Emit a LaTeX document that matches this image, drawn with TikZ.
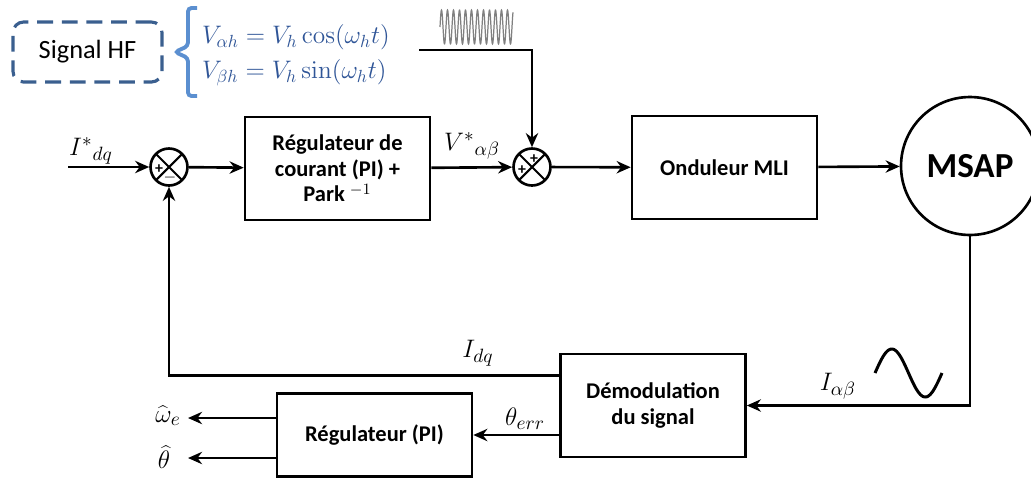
\documentclass[tikz,border=0pt]{standalone}
\usepackage[no-math]{fontspec}
\setmainfont{Carlito}
\usetikzlibrary{arrows.meta, calc, positioning}
\definecolor{hfblue}{HTML}{3A5F8F}
\definecolor{eqblue}{HTML}{2F5597}
\definecolor{braceblue}{HTML}{5B8FD0}

\begin{document}
\begin{tikzpicture}[x=0.02cm, y=-0.02cm, line width=1.5pt,
        bloc/.style={draw, minimum width=3.7cm, minimum height=2.06cm, inner sep=0pt, align=center, font=\fontsize{12.8}{14.5}\selectfont\bfseries},
        somme/.style={draw, circle, minimum size=0.74cm, inner sep=0pt, path picture={
            \draw[line width=1.2pt] (path picture bounding box.north west) -- (path picture bounding box.south east)
                (path picture bounding box.north east) -- (path picture bounding box.south west);}},
        signe/.style={font=\fontsize{9}{9}\selectfont\bfseries, inner sep=0pt},
        label/.style={font=\fontsize{15.5}{17}\selectfont, inner sep=1pt},
        fl/.style={-{Stealth[length=8pt,width=7pt]}}]
        \useasboundingbox (0,0) rectangle (1031,481);

        % signal HF
        \node[draw=hfblue, line width=1.8pt, dash pattern=on 9pt off 5pt, rounded corners=6pt, minimum width=2.98cm, minimum height=1.2cm, font=\fontsize{15}{17}\selectfont] (hf) at (87.5,52) {Signal HF};
        \draw[braceblue, line width=2.2pt, rounded corners=2pt] (197,8) -- (188,8) -- (188,46) -- (175,52) -- (188,58) -- (188,96) -- (197,96);
        \node[font=\fontsize{14.5}{16}\selectfont, text=eqblue, anchor=west] (eqa) at (195,37) {$V_{\alpha h} = V_h\cos(\omega_h t)$};
        \node[font=\fontsize{14.5}{16}\selectfont, text=eqblue, anchor=west] (eqb) at (195,73) {$V_{\beta h} = V_h\sin(\omega_h t)$};
        \draw[gray, line width=0.7pt, domain=440:513, samples=400] plot (\x, {27-17*sin(60*(\x-440))});

        % chaine directe
        \node[somme] (s1) at (169,167) {};
        \node[somme] (s2) at (532,167) {};
        \node[bloc] (reg) at (337.5,168.5) {Régulateur de\\courant (PI) +\\Park $^{-1}$};
        \node[bloc] (ond) at (724.5,167.5) {Onduleur MLI};
        \node[draw, circle, minimum size=2.76cm, inner sep=0pt, font=\fontsize{20}{22}\selectfont\bfseries] (msap) at (970,166) {MSAP};
        \node[bloc] (demod) at (653,405.5) {Démodulation\\du signal};
        \node[bloc, minimum width=3.9cm, minimum height=1.66cm] (regpi) at (374.5,435) {Régulateur (PI)};

        \node[signe] at ($(s1)+(-10,2)$) {+};
        \node[signe] at ($(s1)+(1,11)$) {$-$};
        \node[signe] at ($(s2)+(2,-8)$) {+};
        \node[signe] at ($(s2)+(-10,3)$) {+};

        \coordinate (entree) at (68,167);
        \coordinate (hfa) at (419,50);
        \coordinate (wout) at (188,418);
        \coordinate (thout) at (188,458);

        \draw[fl] (entree) -- (s1);
        \draw[fl] (s1) -- (reg);
        \draw[fl] (reg) -- (s2);
        \draw[fl] (hfa) -| (s2);
        \draw[fl] (s2) -- (ond);
        \draw[fl] (ond) -- (msap);
        \draw[fl] (msap) |- (demod);
        \draw[fl] ($(demod.west)+(0,-30)$) -| (s1);
        \draw[fl] (demod.west |- regpi.east) -- (regpi);
        \draw[fl] (regpi.west |- wout) -- (wout);
        \draw[fl] (regpi.west |- thout) -- (thout);

        % courant mesure
        \draw[line width=1.7pt, domain=875:942, samples=100] plot (\x, {373-24*sin(5.373*(\x-875))});

        \node[label] at (91,151) {$I^{*}{}_{dq}$};
        \node[label] at (472,146) {$V^{*}{}_{\alpha\beta}$};
        \node[label] at (838,386) {$I_{\alpha\beta}$};
        \node[label] at (478,353) {$I_{dq}$};
        \node[label] at (525,419) {$\theta_{err}$};
        \node[label] at (168,416) {$\widehat{\omega}_e$};
        \node[label] at (164,457) {$\widehat{\theta}$};
    \end{tikzpicture}
\end{document}
